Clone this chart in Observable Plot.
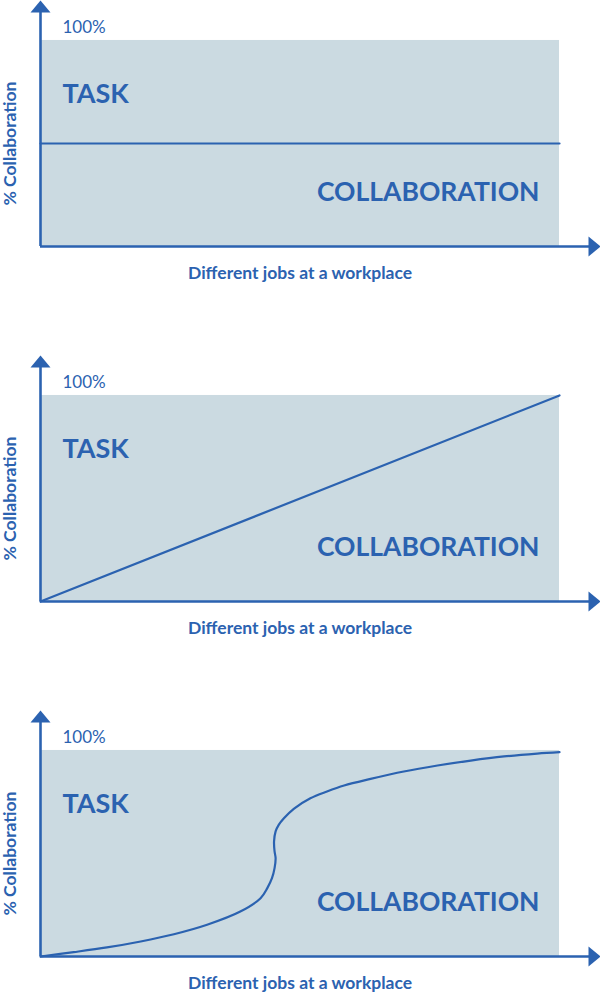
<!DOCTYPE html>
<html><head><meta charset="utf-8">
<script src="https://cdn.jsdelivr.net/npm/d3@7"></script>
<script src="https://cdn.jsdelivr.net/npm/@observablehq/plot@0.6"></script>
<style>
html,body{margin:0;padding:0;background:#fff;overflow:hidden}
#charts svg{display:block}
</style></head><body><div id="charts"></div>
<script>
// ---- data ----
const yAxisLabel = "% Collaboration";
const xAxisLabel = "Different jobs at a workplace";
const topTickLabel = "100%";
const taskLabel = "TASK";
const collabLabel = "COLLABORATION";

// panel 1: constant share
const flatX = [0, 1];
const flatY = [0.5, 0.5];
// panel 2: linear
const linearX = [0, 1];
const linearY = [0, 1];
// panel 3: S-curve
const sCurveX = [0, 0.064, 0.128, 0.193, 0.257, 0.321, 0.385, 0.424, 0.437, 0.446, 0.451, 0.453, 0.451, 0.450, 0.453, 0.459, 0.469, 0.488, 0.520, 0.552, 0.585, 0.636, 0.700, 0.765, 0.829, 0.893, 0.957, 1];
const sCurveY = [0, 0.021, 0.044, 0.073, 0.108, 0.154, 0.218, 0.283, 0.332, 0.380, 0.429, 0.477, 0.510, 0.558, 0.607, 0.639, 0.671, 0.717, 0.768, 0.801, 0.830, 0.862, 0.898, 0.927, 0.951, 0.971, 0.985, 0.992];

const panels = [
  {xs: flatX, ys: flatY, curve: "linear", height: 355},
  {xs: linearX, ys: linearY, curve: "linear", height: 355},
  {xs: sCurveX, ys: sCurveY, curve: "catmull-rom", height: 292}
];

// ---- style ----
const blue = "#2b62b0";
const shade = "#cbdae1";
const font = "Lato, 'Open Sans', sans-serif";

const upArrow = {draw(ctx) { ctx.moveTo(0, 0); ctx.lineTo(10, 12); ctx.lineTo(-10, 12); ctx.closePath(); }};
const rightArrow = {draw(ctx) { ctx.moveTo(0, 0); ctx.lineTo(-12, -10); ctx.lineTo(-12, 10); ctx.closePath(); }};

const root = document.getElementById("charts");
for (const p of panels) {
  const rows = p.xs.map((x, i) => ({x, y: p.ys[i]}));
  const chart = Plot.plot({
    width: 600,
    height: p.height,
    marginLeft: 40,
    marginRight: 0,
    marginTop: 0,
    marginBottom: p.height - 246,
    style: {fontFamily: font, background: "#fff", overflow: "visible"},
    x: {domain: [0, 1.079], axis: null},
    y: {domain: [0, 1.194], axis: null},
    marks: [
      Plot.rect([0], {x1: 0, x2: 1, y1: 0, y2: 1, fill: shade}),
      Plot.line(rows, {x: "x", y: "y", stroke: blue, strokeWidth: 2.2, curve: p.curve}),
      Plot.ruleX([0], {stroke: blue, strokeWidth: 2.6, insetTop: 6}),
      Plot.ruleY([0], {stroke: blue, strokeWidth: 2.6, insetRight: 6}),
      Plot.dot([0], {frameAnchor: "top-left", symbol: upArrow, r: 1, fill: blue, stroke: "none"}),
      Plot.dot([0], {frameAnchor: "bottom-right", symbol: rightArrow, r: 1, fill: blue, stroke: "none"}),
      Plot.text([topTickLabel], {x: 0, y: 1, dx: 22, dy: -13, textAnchor: "start", fontSize: 17, fill: blue}),
      Plot.text([taskLabel], {x: 0, y: 0.738, dx: 22, textAnchor: "start", fontSize: 27, fontWeight: 700, fill: blue}),
      Plot.text([collabLabel], {x: 1, y: 0.262, dx: -20, textAnchor: "end", fontSize: 26.5, fontWeight: 700, fill: blue}),
      Plot.text([xAxisLabel], {x: 0.5, frameAnchor: "bottom", dy: 32, fontSize: 17.5, fontWeight: 700, fill: blue}),
      Plot.text([yAxisLabel], {x: 0, y: 0.5, dx: -30, rotate: -90, fontSize: 17.5, fontWeight: 700, fill: blue})
    ]
  });
  root.appendChild(chart);
}
</script>
</body></html>
